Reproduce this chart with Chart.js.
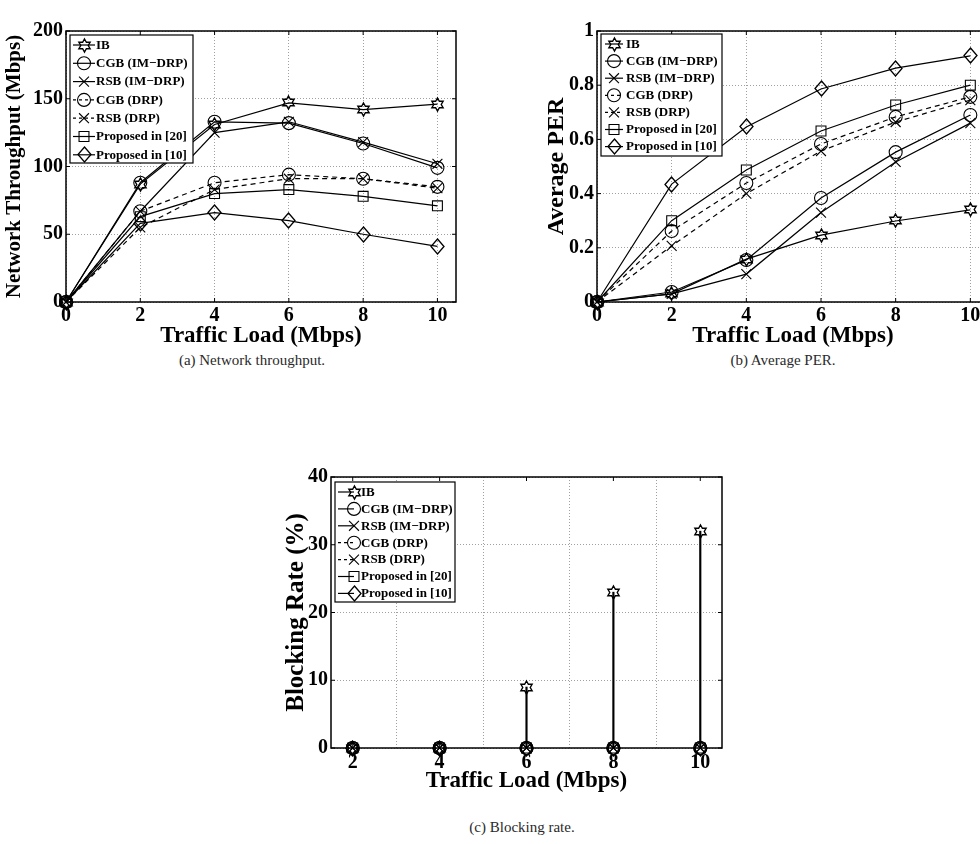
<!DOCTYPE html>
<html><head><meta charset="utf-8">
<script src="https://cdn.jsdelivr.net/npm/chart.js@4.4.1/dist/chart.umd.min.js"></script>
<style>
html,body{margin:0;padding:0;background:#fff;overflow:hidden;width:980px;height:844px;}
canvas{position:absolute;display:block;}
.cap{position:absolute;font-family:'Liberation Serif',serif;font-size:15px;color:#2a2a2a;white-space:nowrap;transform:translate(-50%,-50%);}
</style></head><body>
<canvas id="ca" width="480" height="350" style="left:0;top:0"></canvas>
<canvas id="cb" width="480" height="350" style="left:530px;top:0"></canvas>
<canvas id="cc" width="470" height="340" style="left:270px;top:460px"></canvas>
<div class="cap" style="left:252px;top:360px">(a) Network throughput.</div>
<div class="cap" style="left:783px;top:360px">(b) Average PER.</div>
<div class="cap" style="left:522px;top:827px">(c) Blocking rate.</div>
<script>
// ---------- data ----------
const seriesNames = ['IB','CGB (IM\u2212DRP)','RSB (IM\u2212DRP)','CGB (DRP)','RSB (DRP)','Proposed in [20]','Proposed in [10]'];
const xTicksAB = [0,2,4,6,8,10];
const yTicksA = [0,50,100,150,200];
const yTicksB = [0,0.2,0.4,0.6,0.8,1];
const xTicksC = [2,4,6,8,10];
const yTicksC = [0,10,20,30,40];

const loadAB = [0,2,4,6,8,10];
// (a) network throughput (Mbps)
const thrIB     = [0,87,131,147,142,146];
const thrCGBim  = [0,88,133,132,117,99];
const thrRSBim  = [0,67,125,133,118,102];
const thrCGBdrp = [0,67,88,94,91,85];
const thrRSBdrp = [0,55,83,91,91,84];
const thr20     = [0,63,80,83,78,71];
const thr10     = [0,58,66,60,50,41];
// (b) average PER
const perIB     = [0,0.03,0.158,0.247,0.299,0.34];
const perCGBim  = [0,0.037,0.155,0.384,0.553,0.69];
const perRSBim  = [0,0.03,0.103,0.33,0.517,0.66];
const perCGBdrp = [0,0.262,0.439,0.583,0.683,0.757];
const perRSBdrp = [0,0.207,0.40,0.557,0.664,0.745];
const per20     = [0,0.30,0.487,0.631,0.727,0.80];
const per10     = [0,0.435,0.646,0.786,0.863,0.908];
// (c) blocking rate (%)
const loadC     = [2,4,6,8,10];
const blkIB     = [0,0,9,23,32];
const blkCGBim  = [0,0,0,0,0];
const blkRSBim  = [0,0,0,0,0];
const blkCGBdrp = [0,0,0,0,0];
const blkRSBdrp = [0,0,0,0,0];
const blk20     = [0,0,0,0,0];
const blk10     = [0,0,0,0,0];

// ---------- markers ----------
function mkHex(R){const s=Math.ceil(2*R+4);const c=document.createElement('canvas');c.width=s;c.height=s;const g=c.getContext('2d');const cx=s/2,cy=s/2,r=R/Math.sqrt(3);g.beginPath();for(let k=0;k<12;k++){const a=-Math.PI/2+k*Math.PI/6;const rr=k%2?r:R;const px=cx+rr*Math.cos(a),py=cy+rr*Math.sin(a);k?g.lineTo(px,py):g.moveTo(px,py);}g.closePath();g.lineWidth=1.4;g.strokeStyle='#000';g.stroke();return c;}
function mkDia(hw,hh){const s=Math.ceil(2*hh+4);const c=document.createElement('canvas');c.width=s;c.height=s;const g=c.getContext('2d');const cx=s/2,cy=s/2;g.beginPath();g.moveTo(cx,cy-hh);g.lineTo(cx+hw,cy);g.lineTo(cx,cy+hh);g.lineTo(cx-hw,cy);g.closePath();g.lineWidth=1.3;g.strokeStyle='#000';g.stroke();return c;}
const HEX=mkHex(6.5), DIA=mkDia(6.5,7.5);
const styles=[
 {ps:HEX,r:7,dash:[]},
 {ps:'circle',r:6.5,dash:[]},
 {ps:'crossRot',r:7,dash:[]},
 {ps:'circle',r:6.5,dash:[5,4]},
 {ps:'crossRot',r:7,dash:[5,4]},
 {ps:'rect',r:7,dash:[]},
 {ps:DIA,r:7,dash:[]}
];
function drawMk(ctx,st,x,y){
  ctx.save();ctx.setLineDash([]);ctx.strokeStyle='#000';ctx.lineWidth=1.1;ctx.imageSmoothingEnabled=false;
  if(typeof st.ps!=='string'){ctx.drawImage(st.ps,Math.round(x-st.ps.width/2),Math.round(y-st.ps.height/2));}
  else{ctx.beginPath();
    if(st.ps==='circle'){ctx.arc(x,y,st.r,0,Math.PI*2);}
    else if(st.ps==='rect'){const h=st.r*Math.SQRT1_2;ctx.rect(x-h,y-h,2*h,2*h);}
    else if(st.ps==='crossRot'){const d=st.r*Math.SQRT1_2;ctx.moveTo(x-d,y-d);ctx.lineTo(x+d,y+d);ctx.moveTo(x-d,y+d);ctx.lineTo(x+d,y-d);}
    ctx.stroke();}
  ctx.restore();
}
function lineDs(i,xs,ys,showLine){const st=styles[i];return {type:'line',label:seriesNames[i],data:xs.map((x,k)=>({x:x,y:ys[k]})),borderColor:'#000',borderWidth:1.2,borderDash:st.dash,pointStyle:st.ps,pointRadius:st.r,pointBorderColor:'#000',pointBackgroundColor:'rgba(0,0,0,0)',pointBorderWidth:1.1,tension:0,showLine:showLine,clip:false,order:0,seriesIdx:i};}
function stemDs(xs,ys){return {type:'bar',data:xs.map((x,k)=>({x:x,y:ys[k]})),backgroundColor:'#000',borderWidth:0,barThickness:1.5,grouped:false,order:1,clip:false};}

// ---------- plugins ----------
const framePlugin={id:'frame',beforeDatasetsDraw(chart){
  const a=chart.chartArea,ctx=chart.ctx;ctx.save();ctx.strokeStyle='#000';ctx.lineWidth=1.5;ctx.setLineDash([]);
  ctx.strokeRect(a.left,a.top,a.right-a.left,a.bottom-a.top);
  ctx.lineWidth=1;ctx.beginPath();
  const xs=chart.scales.x,ys=chart.scales.y,tl=4;
  xs.ticks.forEach(t=>{const p=xs.getPixelForValue(t.value);ctx.moveTo(p,a.bottom);ctx.lineTo(p,a.bottom-tl);ctx.moveTo(p,a.top);ctx.lineTo(p,a.top+tl);});
  ys.ticks.forEach(t=>{const p=ys.getPixelForValue(t.value);ctx.moveTo(a.left,p);ctx.lineTo(a.left+tl,p);ctx.moveTo(a.right,p);ctx.lineTo(a.right-tl,p);});
  ctx.stroke();ctx.restore();
  ctx.imageSmoothingEnabled=false;}};
const legendPlugin={id:'mlLegend',afterDraw(chart,args,o){
  const ctx=chart.ctx;ctx.save();
  ctx.fillStyle='#fff';ctx.fillRect(o.x,o.y,o.w,o.h);
  ctx.strokeStyle='#000';ctx.lineWidth=1.2;ctx.setLineDash([]);ctx.strokeRect(o.x,o.y,o.w,o.h);
  const dsets=chart.data.datasets.filter(d=>d.type==='line');
  dsets.forEach((d,k)=>{const st=styles[d.seriesIdx];const y=o.y0+k*o.dy;
    ctx.save();ctx.strokeStyle='#000';ctx.lineWidth=1.2;ctx.setLineDash(st.dash.length?[3,3]:[]);
    ctx.beginPath();ctx.moveTo(o.l0,y);ctx.lineTo(o.l1,y);ctx.stroke();ctx.restore();
    drawMk(ctx,st,o.mx,y);
    ctx.fillStyle='#000';ctx.font='bold 13px "Liberation Serif"';ctx.textBaseline='middle';ctx.textAlign='left';
    ctx.fillText(d.label,o.tx,y+0.5);});
  ctx.restore();}};

const tickFont={family:'Liberation Serif',size:20,weight:'bold'};
const titleFont={family:'Liberation Serif',size:23,weight:'bold'};
function mkScales(c){return {
  x:{type:'linear',min:c.xmin,max:c.xmax,offset:false,
    afterBuildTicks:s=>{s.ticks=c.xt.map(v=>({value:v}));},
    afterFit:s=>{s.height=c.xh;},
    grid:{color:'#a0a0a0',lineWidth:1,drawTicks:false},
    border:{display:false,dash:[1,2]},
    ticks:{font:tickFont,color:'#000',padding:c.xpad,maxRotation:0,autoSkip:false,callback:v=>String(v)},
    title:{display:true,text:'Traffic Load (Mbps)',font:titleFont,color:'#000',padding:{top:0,bottom:c.xtpad}}},
  y:{type:'linear',min:c.ymin,max:c.ymax,
    afterBuildTicks:s=>{s.ticks=c.yt.map(v=>({value:v}));},
    afterFit:s=>{s.width=c.yw;},
    grid:{color:'#a0a0a0',lineWidth:1,drawTicks:false},
    border:{display:false,dash:[1,2]},
    ticks:{font:tickFont,color:'#000',padding:3,autoSkip:false,callback:v=>String(v)},
    title:{display:true,text:c.ytitle,font:{family:'Liberation Serif',size:c.ytsize,weight:'bold'},color:'#000',padding:{top:c.ytpad,bottom:0}}}
};}
function baseOpts(c,leg){return {responsive:false,animation:false,events:[],
  layout:{padding:c.pad},
  plugins:{legend:{display:false},tooltip:{enabled:false},mlLegend:leg},
  scales:mkScales(c)};}

// ---------- chart (a) ----------
const thrSeries=[thrIB,thrCGBim,thrRSBim,thrCGBdrp,thrRSBdrp,thr20,thr10];
new Chart(document.getElementById('ca'),{type:'line',
  data:{datasets:thrSeries.map((s,i)=>lineDs(i,loadAB,s,true))},
  options:baseOpts({xmin:0,xmax:10.5,xt:xTicksAB,ymin:0,ymax:200,yt:yTicksA,xh:48,yw:66,xpad:2,xtpad:0,ytpad:2,ytsize:21,
    ytitle:'Network Throughput (Mbps)',pad:{left:0,top:31,right:24,bottom:0}},
    {x:70,y:35,w:123,h:128,y0:45,dy:18.3,l0:73,l1:95,mx:84,tx:96}),
  plugins:[framePlugin,legendPlugin]});

// ---------- chart (b) ----------
const perSeries=[perIB,perCGBim,perRSBim,perCGBdrp,perRSBdrp,per20,per10];
new Chart(document.getElementById('cb'),{type:'line',
  data:{datasets:perSeries.map((s,i)=>lineDs(i,loadAB,s,true))},
  options:baseOpts({xmin:0,xmax:10.5,xt:xTicksAB,ymin:0,ymax:1,yt:yTicksB,xh:48,yw:67,xpad:2,xtpad:0,ytpad:12,ytsize:24,
    ytitle:'Average PER',pad:{left:0,top:31,right:21,bottom:0}},
    {x:71,y:34,w:121,h:122,y0:44,dy:17.1,l0:75,l1:93,mx:84,tx:96}),
  plugins:[framePlugin,legendPlugin]});

// ---------- chart (c) ----------
const blkSeries=[blkIB,blkCGBim,blkRSBim,blkCGBdrp,blkRSBdrp,blk20,blk10];
const dsC=[];
blkSeries.forEach((s,i)=>{dsC.push(stemDs(loadC,s));});
blkSeries.forEach((s,i)=>{dsC.push(lineDs(i,loadC,s,false));});
new Chart(document.getElementById('cc'),{type:'line',
  data:{datasets:dsC},
  options:baseOpts({xmin:1.5,xmax:10.5,xt:xTicksC,ymin:0,ymax:40,yt:yTicksC,xh:52,yw:61,xpad:3,xtpad:5,ytpad:12,ytsize:25,
    ytitle:'Blocking Rate (%)',pad:{left:0,top:17,right:18,bottom:0}},
    {x:65,y:22,w:120,h:120,y0:32,dy:16.9,l0:68,l1:84,mx:84,tx:91}),
  plugins:[framePlugin,legendPlugin]});
</script>
</body></html>
